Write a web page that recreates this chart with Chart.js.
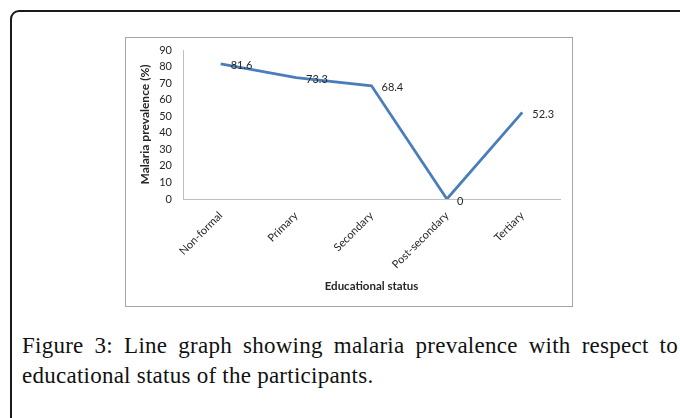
<!DOCTYPE html>
<html>
<head>
<meta charset="utf-8">
<script src="https://cdn.jsdelivr.net/npm/chart.js@4"></script>
<style>
  body { margin: 0; background: #fff; width: 680px; height: 418px; overflow: hidden; position: relative; }
  #frame { position: absolute; left: 10px; top: 10px; width: 720px; height: 440px;
           border: 2px solid #1a1a1a; border-top-left-radius: 9px; box-sizing: border-box; }
  #box { position: absolute; left: 125px; top: 37px; width: 448px; height: 270px;
         border: 1px solid #a6a6a6; box-sizing: border-box; }
  #box canvas { position: absolute; left: 0; top: 0; }
  #caption { position: absolute; left: 22px; top: 331px; width: 656px;
             font-family: "Liberation Serif", "DejaVu Serif", serif; font-size: 23px;
             letter-spacing: 0.25px; line-height: 30px; text-align: justify; color: #111; }
</style>
</head>
<body>
<div id="frame"></div>
<div id="box"><canvas id="graficoMalaria" width="446" height="268"></canvas></div>
<div id="caption">Figure 3: Line graph showing malaria prevalence with respect to educational status of the participants.</div>

<script>
// datos del grafico
const categorias = ["Non-formal", "Primary", "Secondary", "Post-secondary", "Tertiary"];
const prevalencia = [81.6, 73.3, 68.4, 0, 52.3];
const ticksY = [0, 10, 20, 30, 40, 50, 60, 70, 80, 90];

const canvas = document.getElementById("graficoMalaria");

// etiquetas de valor al lado derecho de cada punto
const etiquetasValor = {
  id: 'etiquetasValor',
  afterDatasetsDraw(chart) {
    const ctx = chart.ctx;
    const meta = chart.getDatasetMeta(0);
    ctx.save();
    ctx.font = '11px Lato, "Open Sans", sans-serif';
    ctx.fillStyle = '#262626';
    ctx.textAlign = 'left';
    ctx.textBaseline = 'middle';
    meta.data.forEach((pt, i) => {
      ctx.fillText(String(prevalencia[i]), pt.x + 10, pt.y + 2);
    });
    ctx.restore();
  }
};

Chart.defaults.font.family = 'Lato, "Open Sans", sans-serif';
Chart.defaults.font.size = 11;
Chart.defaults.color = '#262626';

new Chart(canvas, {
  type: 'line',
  data: {
    labels: categorias,
    datasets: [{
      label: 'Malaria prevalence (%)',
      data: prevalencia,
      borderColor: '#4a7ebb',
      borderWidth: 2.8,
      pointRadius: 0,
      tension: 0,
      fill: false
    }]
  },
  options: {
    responsive: false,
    animation: false,
    layout: { padding: { left: 12, right: 12, top: 12, bottom: 9 } },
    plugins: { legend: { display: false }, tooltip: { enabled: false } },
    scales: {
      x: {
        offset: true,
        grid: { display: false, drawTicks: false },
        border: { display: true, color: '#bfbfbf', width: 1 },
        ticks: { minRotation: 45, maxRotation: 45, padding: 10, autoSkip: false },
        title: { display: true, text: 'Educational status', font: { weight: 'bold', size: 11.5 }, padding: { top: 0, bottom: 4 } },
        afterFit(scale) { scale.height = 98; scale.paddingLeft = 0; scale.paddingRight = 0; }
      },
      y: {
        min: 0,
        max: 90,
        afterBuildTicks(scale) { scale.ticks = ticksY.map(v => ({ value: v })); },
        grid: { display: false, drawTicks: false },
        border: { display: true, color: '#bfbfbf', width: 1 },
        ticks: { padding: 11, autoSkip: false },
        title: { display: true, text: 'Malaria prevalence (%)', font: { weight: 'bold', size: 12 }, padding: { top: 0, bottom: 2 } },
        afterFit(scale) { scale.width = 45; scale.paddingTop = 0; scale.paddingBottom = 0; }
      }
    }
  },
  plugins: [etiquetasValor]
});
</script>
</body>
</html>
